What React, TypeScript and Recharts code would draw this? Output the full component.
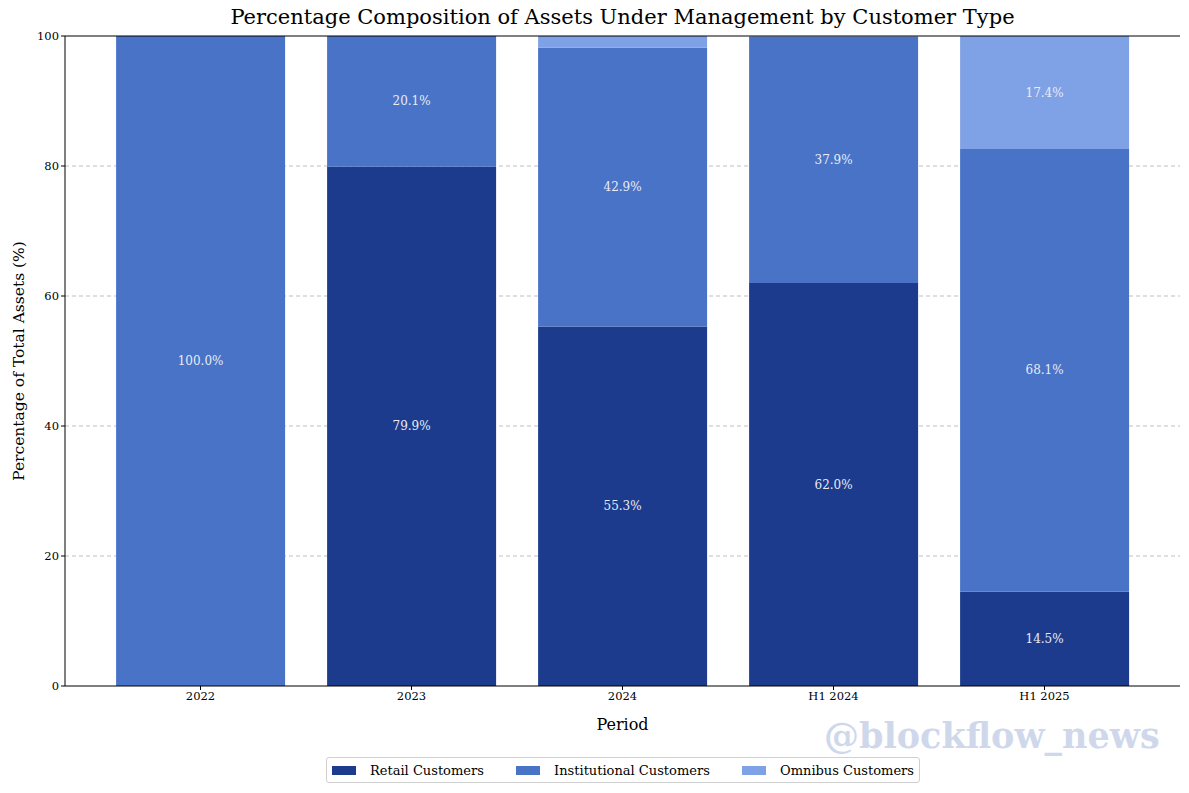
import React from "react";
import {
  BarChart, Bar, XAxis, YAxis, CartesianGrid, LabelList, ReferenceLine, Label,
} from "recharts";

const periods = ["2022", "2023", "2024", "H1 2024", "H1 2025"];
const retail = [0, 79.9, 55.3, 62.0, 14.5];
const institutional = [100.0, 20.1, 42.9, 37.9, 68.1];
const omnibus = [0, 0, 1.8, 0.1, 17.4];
const yTicks = [0, 20, 40, 60, 80, 100];
const gridValues = [20, 40, 60, 80];

const SERIES = [
  { key: "retail", name: "Retail Customers", color: "#1c3b8c" },
  { key: "institutional", name: "Institutional Customers", color: "#4873c7" },
  { key: "omnibus", name: "Omnibus Customers", color: "#7fa1e5" },
];

const data = periods.map((p, i) => ({
  period: p,
  retail: retail[i],
  institutional: institutional[i],
  omnibus: omnibus[i],
}));

const FONT = "'DejaVu Serif', serif";

const SegmentLabel = (props: any) => {
  const { x, y, width, height, value } = props;
  if (value == null || value < 5) return null;
  return (
    <text
      x={x + width / 2}
      y={y + height / 2}
      textAnchor="middle"
      dominantBaseline="central"
      fill="#e9ecf5"
      fontSize={12}
      fontFamily={FONT}
    >
      {`${Number(value).toFixed(1)}%`}
    </text>
  );
};

export default function App() {
  return (
    <div style={{ position: "absolute", left: 0, top: 0, width: 1189, height: 793, background: "#fff", fontFamily: FONT }}>
      <div
        style={{
          position: "absolute", top: 5, left: 65, width: 1115, textAlign: "center",
          fontSize: 21, color: "#000",
        }}
      >
        Percentage Composition of Assets Under Management by Customer Type
      </div>
      <BarChart
        width={1189}
        height={793}
        data={data}
        margin={{ top: 36, right: 9, left: 0, bottom: 57 }}
        barCategoryGap="10%"
      >
        <CartesianGrid vertical={false} horizontalValues={gridValues} stroke="#bfbfbf" strokeDasharray="4 3" />
        <XAxis
          dataKey="period"
          padding={{ left: 30, right: 30 }}
          height={50}
          stroke="#000"
          tickSize={4}
          tick={{ fill: "#000", fontSize: 11.5, fontFamily: FONT }}
        >
          <Label value="Period" position="insideBottom" offset={6} fill="#000" fontSize={16} fontFamily={FONT} />
        </XAxis>
        <YAxis
          domain={[0, 100]}
          ticks={yTicks}
          width={65}
          stroke="#000"
          tickSize={4}
          interval={0}
          tick={{ fill: "#000", fontSize: 11.5, fontFamily: FONT }}
        >
          <Label
            value="Percentage of Total Assets (%)"
            angle={-90}
            position="insideLeft"
            offset={18}
            style={{ textAnchor: "middle", fontFamily: FONT, fontSize: 15.5 }}
            fill="#000"
          />
        </YAxis>
        <YAxis yAxisId="right" orientation="right" width={0} tick={false} stroke="#000" domain={[0, 100]} />
        {SERIES.map((s) => (
          <Bar key={s.key} dataKey={s.key} name={s.name} stackId="a" fill={s.color} isAnimationActive={false}>
            <LabelList dataKey={s.key} content={<SegmentLabel />} />
          </Bar>
        ))}
        <ReferenceLine y={100} stroke="#000" strokeWidth={1} />
      </BarChart>
      <div
        style={{
          position: "absolute", left: 326, top: 757, width: 594, height: 26,
          border: "1px solid #d0d0d0", borderRadius: 3, display: "flex",
          alignItems: "center", justifyContent: "space-between", fontSize: 13, color: "#000",
          boxSizing: "border-box", padding: "0 5px", whiteSpace: "nowrap",
        }}
      >
        {SERIES.map((s) => (
          <div key={s.key} style={{ display: "flex", alignItems: "center", flexShrink: 0 }}>
            <span style={{ width: 24, height: 9, background: s.color, display: "inline-block", marginRight: 14, flexShrink: 0 }} />
            <span>{s.name}</span>
          </div>
        ))}
      </div>
      <div
        style={{
          position: "absolute", left: 824, top: 715, fontSize: 35, fontWeight: "bold",
          color: "#cfd8eb", fontFamily: FONT, whiteSpace: "nowrap",
        }}
      >
        @blockflow_news
      </div>
    </div>
  );
}
